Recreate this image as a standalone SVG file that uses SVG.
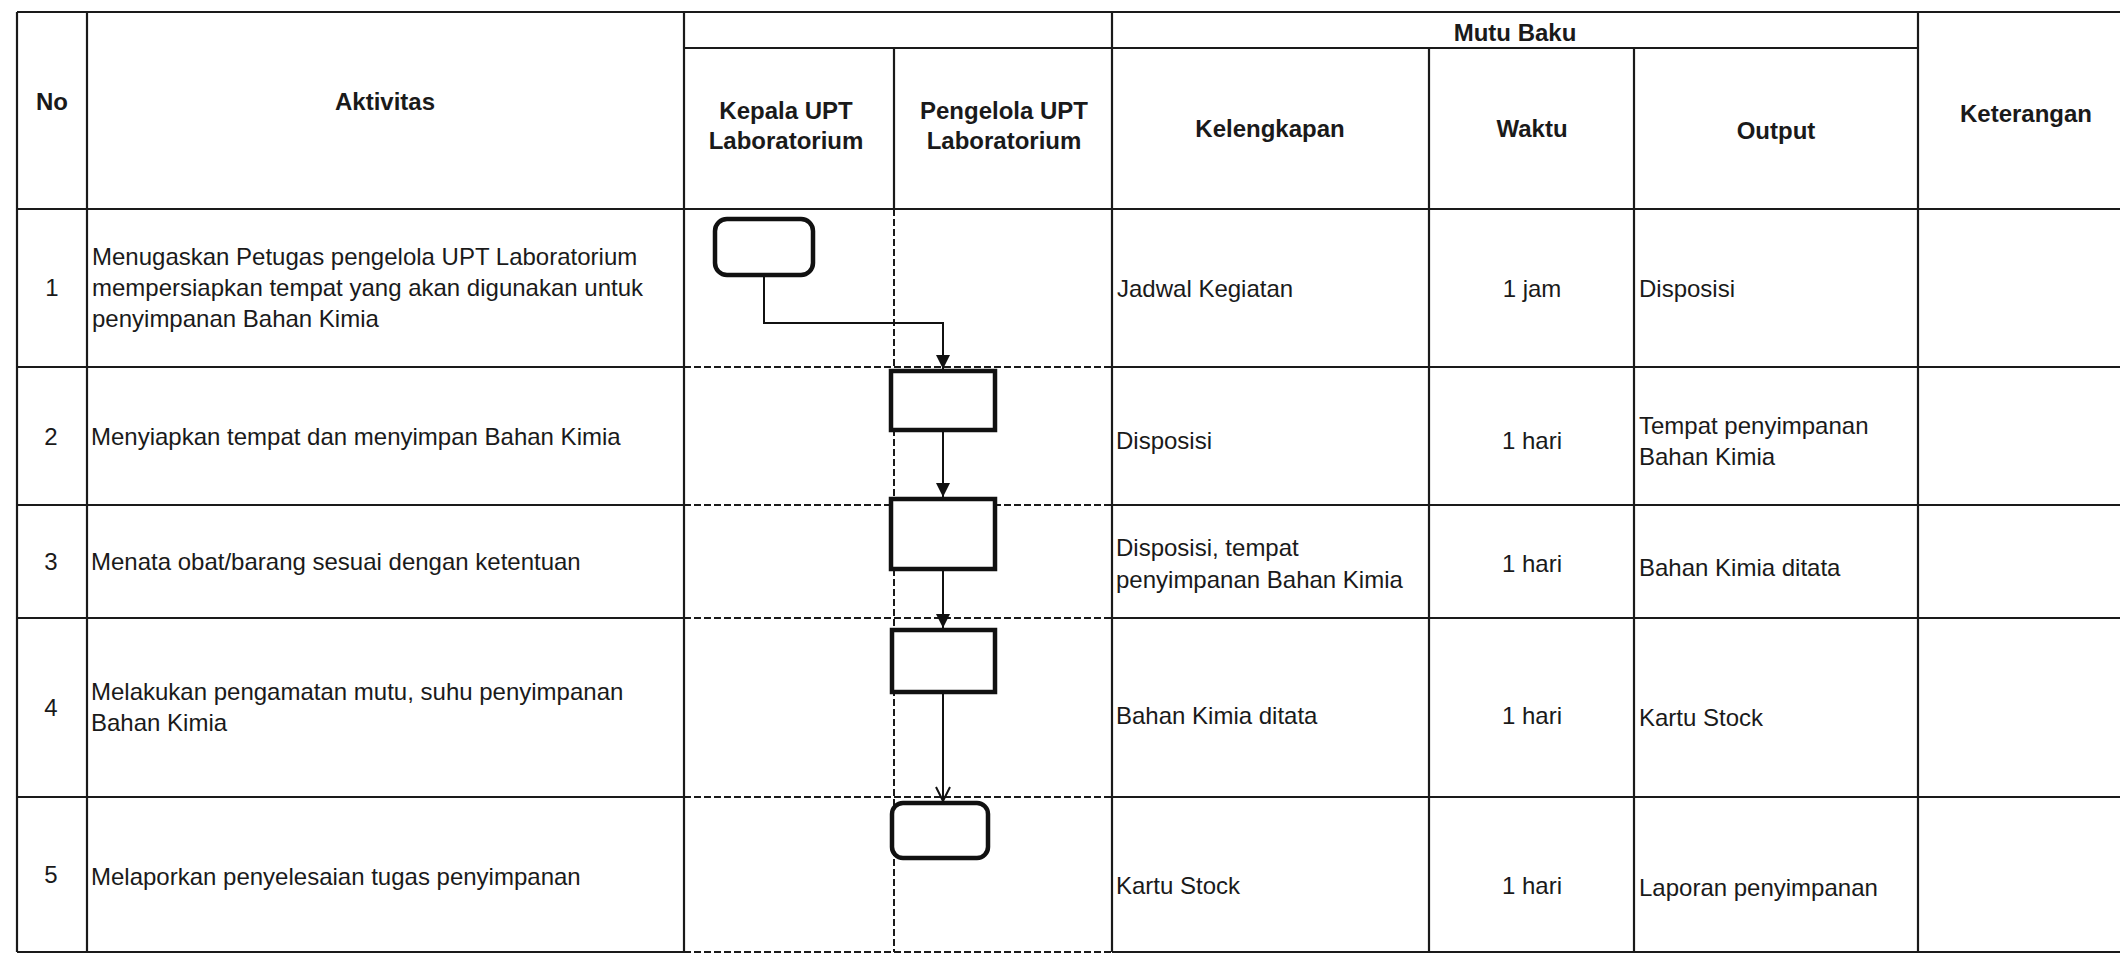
<svg xmlns="http://www.w3.org/2000/svg" width="2120" height="960" viewBox="0 0 2120 960">
<style>
.t{font-family:"Liberation Sans",Arial,sans-serif;font-size:24px;fill:#1a1a1a}
.b{font-weight:bold}
.c{text-anchor:middle}
.ln{stroke:#1a1a1a;stroke-width:2.2;fill:none}
.ds{stroke:#1a1a1a;stroke-width:2;stroke-dasharray:7 3;fill:none}
.box{fill:#fff;stroke:#111;stroke-width:4.5}
.cn{stroke:#111;stroke-width:2;fill:none}
</style>
<defs>
<marker id="af" markerUnits="userSpaceOnUse" markerWidth="14" markerHeight="14" viewBox="0 0 14 14" refX="14" refY="7" orient="auto">
<path d="M0,0 L14,7 L0,14 z" fill="#111"/>
</marker>
<marker id="ao" markerUnits="userSpaceOnUse" markerWidth="16" markerHeight="16" viewBox="0 0 16 16" refX="15" refY="8" orient="auto">
<path d="M1,1 L15,8 L1,15" fill="none" stroke="#111" stroke-width="2"/>
</marker>
</defs>
<rect x="0" y="0" width="2120" height="960" fill="#fff"/>
<g id="grid">
<path class="ln" d="M17,12 H2120 M684,48 H1918 M17,209 H2120"/>
<path class="ln" d="M17,367 H684 M1112,367 H2120 M17,505 H684 M1112,505 H2120 M17,618 H684 M1112,618 H2120 M17,797 H684 M1112,797 H2120 M17,952 H684 M1112,952 H2120"/>
<path class="ds" d="M684,367 H1112 M684,505 H1112 M684,618 H1112 M684,797 H1112 M684,952 H1112"/>
<path class="ln" d="M17,12 V952 M87,12 V952 M684,12 V952 M894,48 V209 M1112,12 V952 M1429,48 V952 M1634,48 V952 M1918,12 V952"/>
<path class="ds" d="M894,209 V952"/>
</g>
<g id="header">
<text class="t b c" x="52" y="110">No</text>
<text class="t b c" x="385" y="110">Aktivitas</text>
<text class="t b c" x="786" y="119">Kepala UPT</text>
<text class="t b c" x="786" y="149">Laboratorium</text>
<text class="t b c" x="1004" y="119">Pengelola UPT</text>
<text class="t b c" x="1004" y="149">Laboratorium</text>
<text class="t b c" x="1515" y="41">Mutu Baku</text>
<text class="t b c" x="1270" y="137">Kelengkapan</text>
<text class="t b c" x="1532" y="137">Waktu</text>
<text class="t b c" x="1776" y="139">Output</text>
<text class="t b c" x="2026" y="122">Keterangan</text>
</g>
<g id="row1">
<text class="t c" x="52" y="296">1</text>
<text class="t" x="92" y="265">Menugaskan Petugas pengelola UPT Laboratorium</text>
<text class="t" x="92" y="296">mempersiapkan tempat yang akan digunakan untuk</text>
<text class="t" x="92" y="327">penyimpanan Bahan Kimia</text>
<text class="t" x="1117" y="297">Jadwal Kegiatan</text>
<text class="t c" x="1532" y="297">1 jam</text>
<text class="t" x="1639" y="297">Disposisi</text>
</g>
<g id="row2">
<text class="t c" x="51" y="445">2</text>
<text class="t" x="91" y="445">Menyiapkan tempat dan menyimpan Bahan Kimia</text>
<text class="t" x="1116" y="449">Disposisi</text>
<text class="t c" x="1532" y="449">1 hari</text>
<text class="t" x="1639" y="434">Tempat penyimpanan</text>
<text class="t" x="1639" y="465">Bahan Kimia</text>
</g>
<g id="row3">
<text class="t c" x="51" y="570">3</text>
<text class="t" x="91" y="570">Menata obat/barang sesuai dengan ketentuan</text>
<text class="t" x="1116" y="556">Disposisi, tempat</text>
<text class="t" x="1116" y="588">penyimpanan Bahan Kimia</text>
<text class="t c" x="1532" y="572">1 hari</text>
<text class="t" x="1639" y="576">Bahan Kimia ditata</text>
</g>
<g id="row4">
<text class="t c" x="51" y="716">4</text>
<text class="t" x="91" y="700">Melakukan pengamatan mutu, suhu penyimpanan</text>
<text class="t" x="91" y="731">Bahan Kimia</text>
<text class="t" x="1116" y="724">Bahan Kimia ditata</text>
<text class="t c" x="1532" y="724">1 hari</text>
<text class="t" x="1639" y="726">Kartu Stock</text>
</g>
<g id="row5">
<text class="t c" x="51" y="883">5</text>
<text class="t" x="91" y="885">Melaporkan penyelesaian tugas penyimpanan</text>
<text class="t" x="1116" y="894">Kartu Stock</text>
<text class="t c" x="1532" y="894">1 hari</text>
<text class="t" x="1639" y="896">Laporan penyimpanan</text>
</g>
<g id="connectors">
<path class="cn" d="M764,277 V323 H943 V369" marker-end="url(#af)"/>
<path class="cn" d="M943,432 V497" marker-end="url(#af)"/>
<path class="cn" d="M943,571 V628" marker-end="url(#af)"/>
<path class="cn" d="M943,694 V801" marker-end="url(#ao)"/>
</g>
<g id="node1"><rect class="box" x="715" y="219" width="98" height="56" rx="12"/></g>
<g id="node2"><rect class="box" x="891" y="371" width="104" height="59"/></g>
<g id="node3"><rect class="box" x="891" y="499" width="104" height="70"/></g>
<g id="node4"><rect class="box" x="892" y="630" width="103" height="62"/></g>
<g id="node5"><rect class="box" x="892" y="803" width="96" height="55" rx="11"/></g>
</svg>
